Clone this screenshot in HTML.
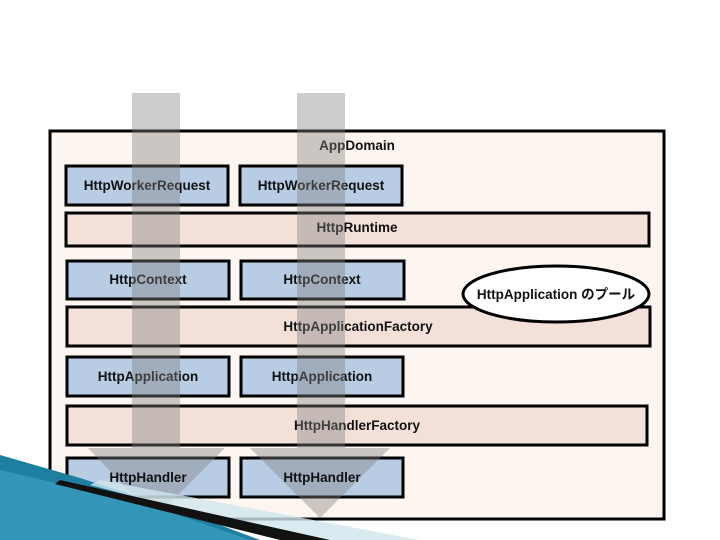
<!DOCTYPE html>
<html><head><meta charset="utf-8"><style>
html,body{margin:0;padding:0;background:#fff;width:720px;height:540px;overflow:hidden}
text{font-family:"Liberation Sans","Noto Sans CJK JP",sans-serif;font-weight:bold;font-size:13.5px;fill:#111;text-anchor:middle}
</style></head><body>
<svg width="720" height="540" viewBox="0 0 720 540" xmlns="http://www.w3.org/2000/svg">
<rect x="50" y="131" width="614" height="388" fill="#fdf5ef" stroke="#000" stroke-width="3"/>
<text x="357" y="150">AppDomain</text>
<g stroke="#000" stroke-width="3">
<rect x="66" y="166" width="162" height="39" fill="#b8cce4"/>
<rect x="240" y="166" width="162" height="39" fill="#b8cce4"/>
<rect x="66" y="213" width="583" height="33" fill="#f2e0d9"/>
<rect x="67" y="261" width="162" height="38" fill="#b8cce4"/>
<rect x="241" y="261" width="163" height="38" fill="#b8cce4"/>
<rect x="67" y="307" width="583" height="39" fill="#f2e0d9"/>
<rect x="67" y="357" width="162" height="39" fill="#b8cce4"/>
<rect x="241" y="357" width="162" height="39" fill="#b8cce4"/>
<rect x="67" y="406" width="580" height="39" fill="#f2e0d9"/>
<rect x="67" y="458" width="162" height="39" fill="#b8cce4"/>
<rect x="241" y="458" width="162" height="39" fill="#b8cce4"/>
</g>
<ellipse cx="556" cy="294" rx="93" ry="28" fill="#fff" stroke="#000" stroke-width="3"/>
<text x="147" y="190">HttpWorkerRequest</text>
<text x="321" y="190">HttpWorkerRequest</text>
<text x="357" y="232">HttpRuntime</text>
<text x="148" y="284">HttpContext</text>
<text x="322" y="284">HttpContext</text>
<text x="556" y="299">HttpApplication のプール</text>
<text x="358" y="331">HttpApplicationFactory</text>
<text x="148" y="381">HttpApplication</text>
<text x="322" y="381">HttpApplication</text>
<text x="357" y="430">HttpHandlerFactory</text>
<g fill="#808080" fill-opacity="0.4">
<polygon points="132,93 180,93 180,448 225,448 155,518 88,448 132,448"/>
<polygon points="297,93 345,93 345,448 390,448 320,518 250,448 297,448"/>
</g>
<text x="148" y="482">HttpHandler</text>
<text x="322" y="482">HttpHandler</text>
<polygon points="0,455 80,478 180,510 260,540 0,540" fill="#1e7fa0"/>
<polygon points="0,470 150,505 250,540 0,540" fill="#3d9fc0" opacity="0.7"/>
<polygon points="100,480 420,540 300,540 90,485" fill="#cfe6ee" opacity="0.8"/>
<polygon points="60,480 330,540 280,540 55,484" fill="#111"/>
</svg>
</body></html>
